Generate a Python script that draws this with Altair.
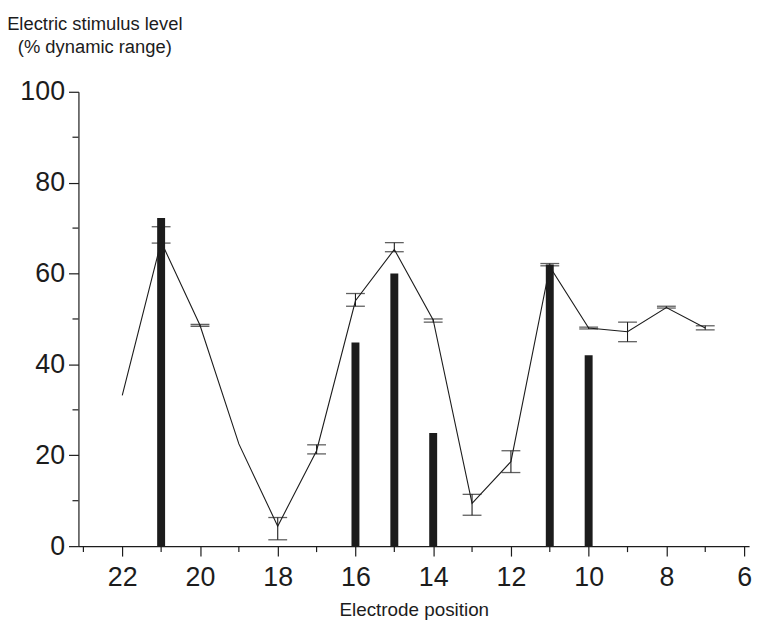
import altair as alt
import pandas as pd

# Line series (mean stimulus level)
line_x = [22, 21, 20, 19, 18, 17, 16, 15, 14, 13, 12, 11, 10, 9, 8, 7]
line_y = [33.2, 67.0, 48.6, 22.5, 4.4, 21.0, 54.0, 65.3, 49.8, 9.4, 18.6, 61.5, 48.0, 47.2, 52.5, 48.0]

# Error bars
err_x = [21, 20, 18, 17, 16, 15, 14, 13, 12, 11, 10, 9, 8, 7]
err_low = [66.7, 48.4, 1.4, 20.3, 52.8, 64.8, 49.3, 6.8, 16.2, 61.7, 47.8, 45.0, 52.4, 47.6]
err_high = [70.3, 48.8, 6.3, 22.3, 55.6, 66.8, 50.0, 11.4, 21.0, 62.2, 48.2, 49.3, 52.8, 48.5]

# Bars
bar_x = [21, 16, 15, 14, 11, 10]
bar_y = [72.2, 44.8, 60.0, 24.9, 62.0, 42.0]

major_x = [22, 20, 18, 16, 14, 12, 10, 8, 6]
minor_x = [23, 21, 19, 17, 15, 13, 11, 9, 7]
major_y = [0, 20, 40, 60, 80, 100]
minor_y = [10, 30, 50, 70, 90]

line_df = pd.DataFrame({"x": line_x, "y": line_y})
err_df = pd.DataFrame({"x": err_x, "lo": err_low, "hi": err_high})
bar_df = pd.DataFrame({"x": bar_x, "y": bar_y})
minor_x_df = pd.DataFrame({"x": minor_x})
minor_y_df = pd.DataFrame({"y": minor_y})

FONT = "Liberation Sans"
INK = "#1c1c1c"
W, H = 676, 458

xscale = alt.Scale(domain=[23, 6], nice=False, zero=False)
yscale = alt.Scale(domain=[0, 100], nice=False)

x_axis = alt.Axis(
    values=major_x, format="d", tickSize=10, tickWidth=1.2, domainWidth=1.2,
    labelFontSize=27, labelPadding=9, labelFont=FONT, labelColor=INK,
    domainColor=INK, tickColor=INK, grid=False, orient="bottom",
    title="Electrode position", titleFont=FONT, titleFontSize=19,
    titleFontWeight="normal", titleColor=INK, titleBaseline="alphabetic",
    titleY=70, labelFlush=False,
)
y_axis = alt.Axis(
    values=major_y, format="d", tickSize=10, tickWidth=1.2, domainWidth=1.2,
    labelFontSize=27, labelPadding=4, labelFont=FONT, labelColor=INK,
    domainColor=INK, tickColor=INK, grid=False, orient="left",
    title=["Electric stimulus level", "(% dynamic range)"], titleFont=FONT,
    titleFontSize=18.5, titleFontWeight="normal", titleColor=INK,
    titleAngle=0, titleAlign="center", titleBaseline="alphabetic",
    titleX=16, titleY=-63, titleLineHeight=23, labelFlush=False,
)

bars = alt.Chart(bar_df).mark_bar(size=8, color=INK).encode(
    x=alt.X("x:Q", scale=xscale, axis=x_axis),
    y=alt.Y("y:Q", scale=yscale, axis=y_axis),
)

line = alt.Chart(line_df).mark_line(color=INK, strokeWidth=1.1).encode(
    x=alt.X("x:Q", scale=xscale),
    y=alt.Y("y:Q", scale=yscale),
)

stems = alt.Chart(err_df).mark_rule(color=INK, strokeWidth=1.1).encode(
    x=alt.X("x:Q", scale=xscale),
    y=alt.Y("lo:Q", scale=yscale),
    y2="hi:Q",
)
cap_lo = alt.Chart(err_df).mark_tick(color=INK, orient="horizontal", size=19, thickness=1.3).encode(
    x=alt.X("x:Q", scale=xscale),
    y=alt.Y("lo:Q", scale=yscale),
)
cap_hi = alt.Chart(err_df).mark_tick(color=INK, orient="horizontal", size=19, thickness=1.3).encode(
    x=alt.X("x:Q", scale=xscale),
    y=alt.Y("hi:Q", scale=yscale),
)

# minor ticks (shorter, unlabeled)
minor_xt = alt.Chart(minor_x_df).mark_rule(color=INK, strokeWidth=1.2).encode(
    x=alt.X("x:Q", scale=xscale),
    y=alt.value(H),
    y2=alt.value(H + 6),
)
minor_yt = alt.Chart(minor_y_df).mark_rule(color=INK, strokeWidth=1.2).encode(
    y=alt.Y("y:Q", scale=yscale),
    x=alt.value(-6),
    x2=alt.value(0),
)

chart = alt.layer(bars, line, stems, cap_lo, cap_hi, minor_xt, minor_yt).properties(
    width=W,
    height=H,
    autosize=alt.AutoSizeParams(type="none"),
    padding={"left": 71, "top": 82, "right": 9, "bottom": 73},
).configure(background="white").configure_view(strokeWidth=0, strokeOpacity=0)

chart.save("out.html", embed_options={"renderer": "svg", "actions": False})
